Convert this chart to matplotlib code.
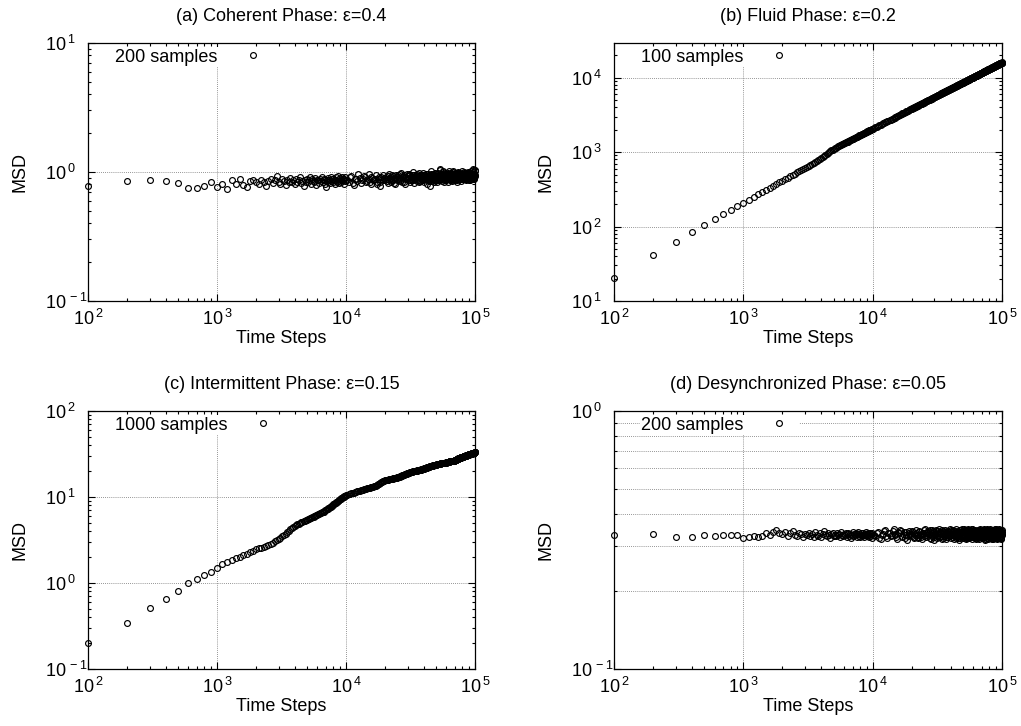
# MSD vs time for the four phases (log-log, gnuplot look)
import matplotlib.pyplot as plt
from matplotlib.ticker import NullFormatter, LogLocator

plt.rcParams['font.family'] = ['Liberation Sans', 'DejaVu Sans']
plt.rcParams['font.size'] = 13

# sampling times: every 100 steps up to 1e4, every 250 afterwards
steps_early = list(range(100, 10001, 100))
steps_late = list(range(10250, 100001, 250))
time_steps = steps_early + steps_late

msd_coherent = [
    0.78, 0.85, 0.86, 0.847, 0.82, 0.755, 0.75, 0.775, 0.837, 0.76,
    0.81, 0.74, 0.86, 0.80, 0.88, 0.79, 0.76, 0.85, 0.866, 0.837,
    0.80, 0.87, 0.83, 0.78, 0.85, 0.89, 0.82, 0.86, 0.93, 0.84,
    0.81, 0.88, 0.85, 0.79, 0.87, 0.83, 0.90, 0.84, 0.86, 0.80,
    0.88, 0.83, 0.86, 0.91, 0.82, 0.85, 0.78, 0.87, 0.84, 0.89,
    0.83, 0.86, 0.92, 0.81, 0.88, 0.85, 0.84, 0.90, 0.79, 0.86,
    0.87, 0.82, 0.89, 0.85, 0.91, 0.83, 0.86, 0.88, 0.80, 0.77,
    0.86, 0.90, 0.84, 0.87, 0.82, 0.92, 0.85, 0.88, 0.83, 0.89,
    0.86, 0.81, 0.91, 0.87, 0.84, 0.93, 0.85, 0.88, 0.82, 0.90,
    0.87, 0.84, 0.92, 0.86, 0.89, 0.81, 0.88, 0.91, 0.85, 0.87,
    # 10250 .. 100000
    0.86, 0.84, 0.91, 0.93, 0.82, 0.79, 0.88, 0.89, 0.85, 0.96, 0.90, 0.82, 0.87, 0.88, 0.93, 0.91, 0.84, 0.85, 0.89, 0.97,
    0.83, 0.81, 0.92, 0.90, 0.86, 0.87, 0.89, 0.95, 0.80, 0.83, 0.88, 0.92, 0.84, 0.78, 0.91, 0.89, 0.87, 0.94, 0.90, 0.86,
    0.88, 0.91, 0.85, 0.82, 0.93, 0.97, 0.90, 0.88, 0.86, 0.84, 0.95, 0.93, 0.87, 0.89, 0.82, 0.80, 0.91, 0.95, 0.89, 0.87,
    0.94, 0.92, 0.88, 0.85, 0.96, 0.99, 0.86, 0.83, 0.91, 0.90, 0.93, 0.94, 0.84, 0.81, 0.90, 0.88, 0.92, 0.96, 0.89, 0.86,
    0.93, 0.90, 0.95, 0.97, 0.87, 0.84, 0.89, 0.92, 0.95, 0.87, 0.91, 1.00, 0.86, 0.82, 0.94, 0.93, 0.88, 0.89, 0.92, 0.95,
    0.88, 0.85, 0.96, 0.91, 0.93, 0.98, 0.86, 0.83, 0.90, 0.94, 0.85, 0.88, 0.95, 0.92, 0.89, 0.86, 0.94, 0.99, 0.87, 0.90,
    0.91, 0.84, 0.88, 0.95, 0.93, 0.89, 0.97, 0.93, 0.86, 0.81, 0.92, 0.97, 0.89, 0.91, 0.95, 0.87, 0.85, 0.78, 0.90, 0.94,
    0.85, 0.88, 0.97, 1.01, 0.90, 0.85, 0.94, 0.92, 0.88, 0.96, 0.87, 0.83, 0.93, 0.90, 0.95, 0.98, 0.91, 0.87, 0.89, 0.93,
    0.96, 0.91, 0.86, 0.84, 0.93, 0.99, 0.87, 0.89, 0.92, 0.95, 0.90, 0.86, 0.97, 0.93, 1.04, 1.06, 0.92, 0.88, 0.94, 0.97,
    0.89, 0.85, 0.91, 0.94, 0.96, 0.90, 1.01, 1.00, 0.86, 0.83, 0.95, 0.92, 0.88, 0.96, 0.93, 0.99, 0.87, 0.91, 0.94, 0.91,
    0.92, 0.88, 0.95, 0.97, 0.89, 0.84, 0.96, 0.93, 0.98, 1.01, 0.91, 0.89, 0.93, 0.95, 0.88, 0.86, 0.94, 0.92, 0.96, 0.98,
    0.93, 0.90, 0.87, 0.85, 0.97, 0.96, 0.90, 0.92, 0.95, 0.88, 1.00, 1.02, 0.92, 0.87, 0.89, 0.94, 0.97, 0.91, 0.95, 0.99,
    0.90, 0.86, 0.93, 0.95, 0.88, 0.92, 0.94, 0.89, 0.96, 0.98, 0.87, 0.84, 0.97, 0.93, 0.99, 1.00, 0.93, 0.90, 0.92, 0.96,
    0.91, 0.88, 0.96, 0.94, 0.92, 0.99, 0.95, 0.91, 0.88, 0.85, 0.93, 0.97, 0.90, 0.92, 0.97, 1.02, 0.94, 0.89, 0.92, 0.95,
    0.97, 0.93, 0.89, 0.90, 0.95, 1.00, 0.93, 0.91, 0.99, 0.96, 0.91, 0.88, 0.96, 0.94, 0.92, 0.99, 0.95, 0.86, 0.90, 0.93,
    0.95, 0.97, 0.92, 0.90, 0.98, 0.94, 0.89, 0.88, 0.93, 0.95, 1.00, 0.96, 0.90, 0.92, 0.95, 0.98, 0.91, 0.87, 0.93, 0.96,
    0.92, 0.91, 0.96, 0.99, 0.95, 0.93, 0.88, 0.87, 0.94, 0.97, 0.90, 0.92, 0.98, 1.02, 0.93, 0.89, 0.91, 0.95, 0.97, 0.90,
    0.93, 0.94, 0.91, 0.88, 0.96, 1.00, 1.03, 1.05, 0.95, 0.92, 0.90, 0.97, 0.93, 0.89, 0.96, 0.95, 1.01, 1.03, 0.94, 0.93,
]

msd_fluid = [
    20.2, 41, 62, 84, 105, 126, 147, 166, 188, 210,
    230, 251, 271, 292, 312, 332, 352, 373, 393, 413,
    433, 453, 473, 493, 513, 533, 553, 573, 593, 613,
    633, 653, 673, 692, 712, 732, 752, 778, 805, 832,
    859, 887, 914, 942, 970, 998, 1026, 1055, 1083, 1112,
    1132, 1152, 1171, 1191, 1210, 1230, 1250, 1269, 1289, 1308,
    1327, 1347, 1366, 1385, 1405, 1424, 1443, 1462, 1481, 1500,
    1519, 1538, 1557, 1576, 1595, 1614, 1633, 1652, 1671, 1690,
    1708, 1727, 1746, 1765, 1783, 1802, 1821, 1839, 1858, 1876,
    1895, 1913, 1932, 1950, 1969, 1987, 2006, 2024, 2042, 2061,
    # 10250 .. 100000
    2107, 2152, 2198, 2243, 2289, 2334, 2379, 2424, 2469, 2514, 2559, 2603, 2648, 2692, 2736, 2780, 2824, 2868, 2912, 2956,
    3000, 3044, 3088, 3131, 3175, 3218, 3262, 3305, 3348, 3391, 3434, 3477, 3520, 3563, 3606, 3648, 3691, 3734, 3777, 3819,
    3862, 3904, 3946, 3988, 4031, 4073, 4115, 4157, 4199, 4241, 4283, 4325, 4367, 4409, 4451, 4492, 4534, 4575, 4617, 4658,
    4700, 4741, 4782, 4823, 4865, 4906, 4947, 4988, 5029, 5070, 5111, 5152, 5193, 5234, 5275, 5316, 5357, 5397, 5438, 5478,
    5519, 5560, 5601, 5641, 5682, 5722, 5762, 5802, 5843, 5883, 5923, 5963, 6004, 6044, 6084, 6124, 6164, 6204, 6244, 6284,
    6324, 6364, 6404, 6443, 6483, 6523, 6563, 6603, 6643, 6682, 6722, 6761, 6801, 6840, 6880, 6919, 6959, 6998, 7038, 7077,
    7117, 7156, 7195, 7234, 7274, 7313, 7352, 7391, 7430, 7469, 7508, 7547, 7587, 7626, 7665, 7704, 7743, 7782, 7821, 7859,
    7898, 7937, 7976, 8014, 8053, 8092, 8131, 8169, 8208, 8247, 8286, 8324, 8363, 8401, 8440, 8478, 8517, 8555, 8594, 8632,
    8671, 8709, 8747, 8785, 8824, 8862, 8900, 8938, 8977, 9015, 9053, 9091, 9130, 9168, 9206, 9244, 9282, 9320, 9358, 9396,
    9434, 9472, 9510, 9548, 9586, 9624, 9662, 9699, 9737, 9775, 9813, 9851, 9889, 9927, 9965, 10002, 10040, 10078, 10116, 10153,
    10191, 10228, 10266, 10303, 10341, 10378, 10416, 10453, 10491, 10528, 10566, 10603, 10641, 10678, 10716, 10753, 10791, 10828, 10865, 10902,
    10940, 10977, 11014, 11051, 11089, 11126, 11163, 11200, 11238, 11275, 11312, 11349, 11386, 11423, 11460, 11497, 11534, 11571, 11608, 11645,
    11682, 11719, 11756, 11793, 11830, 11867, 11904, 11941, 11978, 12015, 12052, 12088, 12125, 12162, 12199, 12236, 12273, 12310, 12347, 12383,
    12420, 12456, 12493, 12529, 12566, 12603, 12640, 12676, 12713, 12749, 12786, 12822, 12859, 12895, 12932, 12968, 13005, 13041, 13078, 13114,
    13151, 13187, 13224, 13260, 13297, 13333, 13369, 13405, 13442, 13478, 13514, 13550, 13587, 13623, 13659, 13695, 13732, 13768, 13804, 13840,
    13877, 13913, 13949, 13985, 14021, 14057, 14093, 14129, 14165, 14201, 14237, 14273, 14309, 14345, 14381, 14417, 14453, 14489, 14525, 14561,
    14597, 14633, 14669, 14705, 14741, 14777, 14813, 14848, 14884, 14920, 14956, 14991, 15027, 15063, 15099, 15134, 15170, 15206, 15242, 15277,
    15313, 15349, 15385, 15420, 15456, 15491, 15527, 15562, 15598, 15634, 15670, 15705, 15741, 15776, 15812, 15847, 15883, 15918, 15954, 15989,
]

msd_intermittent = [
    0.20, 0.346, 0.507, 0.65, 0.807, 0.99, 1.11, 1.24, 1.34, 1.51,
    1.65, 1.75, 1.85, 1.94, 1.99, 2.12, 2.19, 2.29, 2.38, 2.46,
    2.52, 2.58, 2.64, 2.70, 2.77, 2.85, 2.94, 3.04, 3.14, 3.25,
    3.36, 3.48, 3.61, 3.75, 3.90, 4.06, 4.22, 4.38, 4.52, 4.65,
    4.74, 4.83, 4.91, 4.99, 5.07, 5.14, 5.21, 5.28, 5.36, 5.45,
    5.52, 5.59, 5.66, 5.73, 5.80, 5.87, 5.95, 6.03, 6.12, 6.22,
    6.30, 6.38, 6.46, 6.53, 6.61, 6.69, 6.78, 6.88, 6.99, 7.10,
    7.21, 7.32, 7.42, 7.53, 7.63, 7.74, 7.85, 7.96, 8.07, 8.18,
    8.30, 8.42, 8.55, 8.68, 8.81, 8.94, 9.07, 9.19, 9.30, 9.41,
    9.52, 9.64, 9.76, 9.88, 9.99, 10.10, 10.20, 10.29, 10.37, 10.45,
    # 10250 .. 100000
    10.57, 10.7, 10.85, 11.0, 11.12, 11.25, 11.37, 11.5, 11.62, 11.75, 11.87, 12.0, 12.1, 12.2, 12.3, 12.4, 12.5, 12.6, 12.7, 12.8,
    12.87, 12.95, 13.02, 13.1, 13.2, 13.3, 13.4, 13.5, 13.65, 13.8, 14.0, 14.2, 14.4, 14.6, 14.8, 15.0, 15.15, 15.3, 15.45, 15.6,
    15.67, 15.75, 15.82, 15.9, 15.97, 16.05, 16.12, 16.2, 16.25, 16.3, 16.35, 16.4, 16.45, 16.5, 16.55, 16.6, 16.67, 16.75, 16.82, 16.9,
    17.0, 17.1, 17.2, 17.3, 17.4, 17.5, 17.6, 17.7, 17.8, 17.9, 18.0, 18.1, 18.2, 18.3, 18.4, 18.5, 18.6, 18.7, 18.8, 18.9,
    18.97, 19.05, 19.12, 19.2, 19.27, 19.35, 19.42, 19.5, 19.57, 19.65, 19.72, 19.8, 19.85, 19.9, 19.95, 20.0, 20.05, 20.1, 20.15, 20.2,
    20.25, 20.3, 20.35, 20.4, 20.45, 20.5, 20.55, 20.6, 20.65, 20.7, 20.75, 20.8, 20.85, 20.9, 20.95, 21.0, 21.07, 21.15, 21.22, 21.3,
    21.37, 21.45, 21.52, 21.6, 21.67, 21.75, 21.82, 21.9, 21.97, 22.05, 22.12, 22.2, 22.27, 22.35, 22.42, 22.5, 22.57, 22.65, 22.72, 22.8,
    22.85, 22.9, 22.95, 23.0, 23.05, 23.1, 23.15, 23.2, 23.25, 23.3, 23.35, 23.4, 23.45, 23.5, 23.55, 23.6, 23.65, 23.7, 23.75, 23.8,
    23.85, 23.9, 23.95, 24.0, 24.05, 24.1, 24.15, 24.2, 24.25, 24.3, 24.35, 24.4, 24.42, 24.45, 24.47, 24.5, 24.52, 24.55, 24.57, 24.6,
    24.62, 24.65, 24.67, 24.7, 24.72, 24.75, 24.77, 24.8, 24.82, 24.85, 24.87, 24.9, 24.92, 24.95, 24.97, 25.0, 25.05, 25.1, 25.15, 25.2,
    25.25, 25.3, 25.35, 25.4, 25.45, 25.5, 25.55, 25.6, 25.65, 25.7, 25.75, 25.8, 25.85, 25.9, 25.95, 26.0, 26.02, 26.05, 26.07, 26.1,
    26.12, 26.15, 26.17, 26.2, 26.22, 26.25, 26.27, 26.3, 26.32, 26.35, 26.37, 26.4, 26.42, 26.45, 26.47, 26.5, 26.55, 26.6, 26.65, 26.7,
    26.77, 26.85, 26.92, 27.0, 27.07, 27.15, 27.22, 27.3, 27.37, 27.45, 27.52, 27.6, 27.67, 27.75, 27.82, 27.9, 27.97, 28.05, 28.12, 28.2,
    28.27, 28.35, 28.42, 28.5, 28.55, 28.6, 28.65, 28.7, 28.75, 28.8, 28.85, 28.9, 28.95, 29.0, 29.05, 29.1, 29.15, 29.2, 29.25, 29.3,
    29.35, 29.4, 29.45, 29.5, 29.55, 29.6, 29.65, 29.7, 29.75, 29.8, 29.85, 29.9, 29.95, 30.0, 30.05, 30.1, 30.15, 30.2, 30.25, 30.3,
    30.35, 30.4, 30.45, 30.5, 30.55, 30.6, 30.65, 30.7, 30.75, 30.8, 30.85, 30.9, 30.95, 31.0, 31.05, 31.1, 31.15, 31.2, 31.25, 31.3,
    31.35, 31.4, 31.45, 31.5, 31.55, 31.6, 31.65, 31.7, 31.75, 31.8, 31.85, 31.9, 31.92, 31.95, 31.97, 32.0, 32.02, 32.05, 32.07, 32.1,
    32.15, 32.2, 32.25, 32.3, 32.35, 32.4, 32.45, 32.5, 32.55, 32.6, 32.65, 32.7, 32.75, 32.8, 32.85, 32.9, 32.95, 33.0, 33.05, 33.1,
]

msd_desync = [
    0.331, 0.335, 0.324, 0.325, 0.330, 0.329, 0.331, 0.332, 0.330, 0.323,
    0.326, 0.327, 0.326, 0.329, 0.336, 0.331, 0.339, 0.345, 0.337, 0.333,
    0.340, 0.329, 0.336, 0.342, 0.331, 0.327, 0.338, 0.333, 0.324, 0.335,
    0.330, 0.337, 0.328, 0.334, 0.326, 0.339, 0.332, 0.329, 0.336, 0.325,
    0.333, 0.344, 0.330, 0.327, 0.336, 0.331, 0.323, 0.334, 0.338, 0.329,
    0.332, 0.327, 0.337, 0.330, 0.334, 0.325, 0.339, 0.331, 0.328, 0.335,
    0.330, 0.336, 0.326, 0.333, 0.338, 0.329, 0.334, 0.322, 0.331, 0.341,
    0.328, 0.335, 0.331, 0.337, 0.326, 0.333, 0.340, 0.329, 0.334, 0.324,
    0.336, 0.330, 0.327, 0.338, 0.332, 0.325, 0.335, 0.331, 0.339, 0.328,
    0.333, 0.337, 0.326, 0.331, 0.336, 0.329, 0.334, 0.321, 0.338, 0.332,
    # 10250 .. 100000
    0.330, 0.327, 0.338, 0.341, 0.323, 0.319, 0.332, 0.335, 0.344, 0.346, 0.329, 0.323, 0.336, 0.338, 0.327, 0.330, 0.342, 0.350, 0.331, 0.333,
    0.325, 0.318, 0.340, 0.336, 0.347, 0.343, 0.329, 0.325, 0.334, 0.339, 0.322, 0.331, 0.341, 0.316, 0.329, 0.344, 0.337, 0.334, 0.331, 0.328,
    0.343, 0.340, 0.326, 0.322, 0.335, 0.347, 0.338, 0.332, 0.321, 0.326, 0.339, 0.343, 0.330, 0.335, 0.324, 0.319, 0.333, 0.338, 0.345, 0.329,
    0.336, 0.349, 0.331, 0.324, 0.340, 0.337, 0.327, 0.342, 0.333, 0.321, 0.345, 0.334, 0.320, 0.345, 0.336, 0.328, 0.343, 0.339, 0.326, 0.317,
    0.330, 0.336, 0.347, 0.344, 0.328, 0.323, 0.337, 0.331, 0.342, 0.348, 0.325, 0.326, 0.338, 0.340, 0.329, 0.333, 0.346, 0.320, 0.335, 0.342,
    0.321, 0.329, 0.340, 0.337, 0.331, 0.346, 0.326, 0.318, 0.337, 0.335, 0.344, 0.343, 0.330, 0.324, 0.341, 0.339, 0.327, 0.331, 0.349, 0.347,
    0.334, 0.322, 0.330, 0.340, 0.342, 0.333, 0.326, 0.345, 0.338, 0.319, 0.332, 0.336, 0.344, 0.328, 0.322, 0.348, 0.339, 0.334, 0.329, 0.325,
    0.337, 0.342, 0.323, 0.330, 0.341, 0.317, 0.329, 0.338, 0.345, 0.346, 0.322, 0.327, 0.336, 0.341, 0.332, 0.335, 0.349, 0.321, 0.340, 0.344,
    0.328, 0.333, 0.345, 0.349, 0.331, 0.324, 0.329, 0.337, 0.346, 0.343, 0.321, 0.318, 0.333, 0.339, 0.327, 0.330, 0.350, 0.347, 0.322, 0.326,
    0.342, 0.338, 0.327, 0.322, 0.339, 0.345, 0.336, 0.332, 0.344, 0.340, 0.331, 0.328, 0.348, 0.350, 0.324, 0.320, 0.333, 0.336, 0.347, 0.343,
    0.330, 0.325, 0.337, 0.341, 0.329, 0.334, 0.343, 0.347, 0.323, 0.319, 0.331, 0.338, 0.342, 0.329, 0.335, 0.344, 0.340, 0.336, 0.327, 0.323,
    0.339, 0.346, 0.325, 0.331, 0.343, 0.318, 0.332, 0.340, 0.328, 0.335, 0.345, 0.348, 0.330, 0.326, 0.338, 0.342, 0.324, 0.321, 0.333, 0.337,
    0.329, 0.333, 0.341, 0.345, 0.322, 0.327, 0.335, 0.339, 0.346, 0.350, 0.328, 0.324, 0.337, 0.341, 0.320, 0.316, 0.340, 0.344, 0.334, 0.330,
    0.345, 0.340, 0.328, 0.322, 0.341, 0.348, 0.337, 0.334, 0.323, 0.328, 0.343, 0.346, 0.331, 0.319, 0.330, 0.337, 0.347, 0.343, 0.329, 0.325,
    0.332, 0.336, 0.342, 0.349, 0.328, 0.323, 0.337, 0.341, 0.326, 0.332, 0.340, 0.345, 0.324, 0.320, 0.335, 0.338, 0.344, 0.347, 0.333, 0.329,
    0.322, 0.318, 0.336, 0.342, 0.330, 0.335, 0.325, 0.327, 0.342, 0.348, 0.328, 0.331, 0.339, 0.344, 0.326, 0.321, 0.337, 0.339, 0.346, 0.350,
    0.331, 0.326, 0.345, 0.340, 0.337, 0.346, 0.323, 0.319, 0.333, 0.336, 0.347, 0.343, 0.328, 0.330, 0.341, 0.349, 0.322, 0.324, 0.335, 0.338,
    0.340, 0.344, 0.333, 0.329, 0.344, 0.337, 0.326, 0.322, 0.339, 0.347, 0.336, 0.333, 0.338, 0.341, 0.323, 0.318, 0.340, 0.345, 0.331, 0.335,
]

titles = ["(a) Coherent Phase: \u03b5=0.4", "(b) Fluid Phase: \u03b5=0.2",
          "(c) Intermittent Phase: \u03b5=0.15", "(d) Desynchronized Phase: \u03b5=0.05"]
sample_labels = ["200 samples", "100 samples", "1000 samples", "200 samples"]
series = [msd_coherent, msd_fluid, msd_intermittent, msd_desync]
ylims = [(0.1, 10), (10, 2.92e4), (0.1, 100), (0.1, 1)]
ydecades = [[-1, 0, 1], [1, 2, 3, 4], [-1, 0, 1, 2], [-1, 0]]
xdecades = [2, 3, 4, 5]

positions = [[0.0862, 0.5854, 0.379, 0.3554], [0.6014, 0.5854, 0.380, 0.3554],
             [0.0862, 0.0785, 0.379, 0.3554], [0.6014, 0.0785, 0.380, 0.3554]]


def pow_label(e):
    return r'$\mathregular{10^{\,%d}}$' % e


fig = plt.figure(figsize=(10.21, 7.26), dpi=100)
grid_kw = dict(color='0.45', linestyle=(0, (1, 1.5)), linewidth=0.6)

for i in range(4):
    ax = fig.add_axes(positions[i])
    ax.plot(time_steps, series[i], 'o', ms=4.2, mfc='none', mec='k', mew=0.85,
            label=sample_labels[i], clip_on=False, zorder=3)
    ax.set_xscale('log')
    ax.set_yscale('log')
    ax.set_xlim(1e2, 1e5)
    ax.set_ylim(*ylims[i])
    ax.set_xticks([10.0 ** e for e in xdecades], [pow_label(e) for e in xdecades])
    ax.set_yticks([10.0 ** e for e in ydecades[i]], [pow_label(e) for e in ydecades[i]])
    ax.xaxis.set_minor_locator(LogLocator(subs=range(2, 10)))
    ax.yaxis.set_minor_locator(LogLocator(subs=range(2, 10)))
    ax.xaxis.set_minor_formatter(NullFormatter())
    ax.yaxis.set_minor_formatter(NullFormatter())
    ax.xaxis.grid(True, which='major', **grid_kw)
    ax.yaxis.grid(True, which='major', **grid_kw)
    if i == 3:
        ax.yaxis.grid(True, which='minor', **grid_kw)
    ax.tick_params(which='both', direction='in', top=True, right=True, width=0.8)
    ax.tick_params(which='major', length=5)
    ax.tick_params(which='minor', length=2.5)
    ax.tick_params(axis='x', pad=6)
    # gnuplot puts the "10" of every y label at the same spot
    ax.tick_params(axis='y', pad=31)
    for lab in ax.get_yticklabels():
        lab.set_horizontalalignment('left')
    for s in ax.spines.values():
        s.set_linewidth(0.9)
    ax.set_title(titles[i], pad=15.5, fontsize=13)
    ax.set_xlabel("Time Steps")
    ax.set_ylabel("MSD")
    ax.xaxis.set_label_coords(0.5, -0.112)
    ax.yaxis.set_label_coords(-0.153, 0.5)
    ax.legend(loc='upper left', bbox_to_anchor=(0.066, 0.985), markerfirst=False,
              handlelength=2, handletextpad=0.95, borderpad=0.1, borderaxespad=0,
              frameon=True, fancybox=False, edgecolor='none', facecolor='white',
              framealpha=1)

fig.savefig('out.png', dpi=100)
